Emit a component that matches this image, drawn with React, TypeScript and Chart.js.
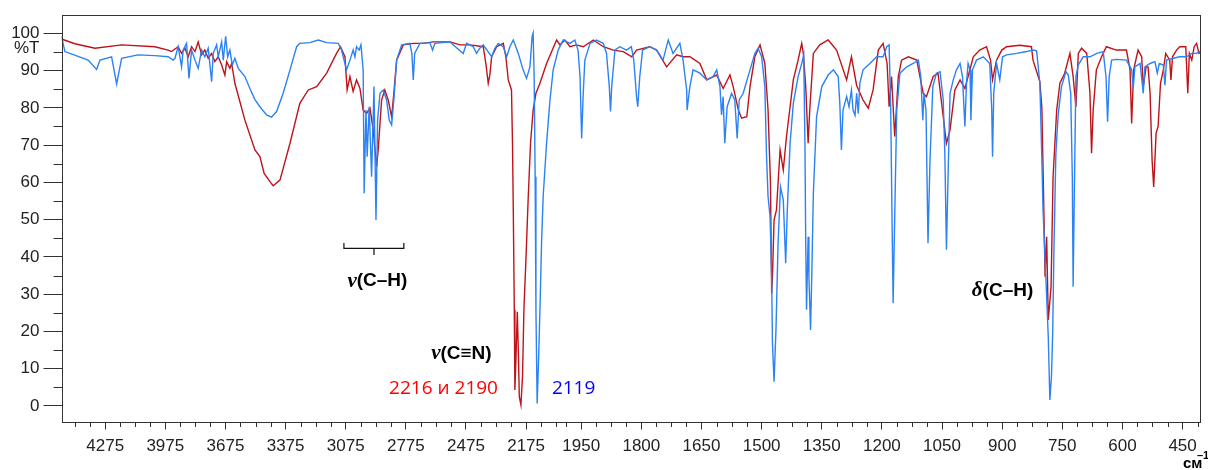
import React, { useEffect, useRef } from "react";
import { Chart, registerables } from "chart.js";

Chart.register(...registerables);

// ---- data (wavenumber in cm^-1, transmittance in %T) ----
const redWavenumbers = [
  4490, 4426, 4326, 4193, 4027, 3961, 3944, 3911, 3894, 3877, 3861, 3844, 3827, 3811, 3794, 3778, 3761, 3744, 3728, 3711,
  3694, 3678, 3669, 3653, 3644, 3628, 3578, 3553, 3528, 3503, 3482, 3453, 3437, 3403, 3353, 3304, 3262, 3220, 3170, 3121,
  3101, 3079, 3068, 3054, 3038, 3021, 3004, 2988, 2971, 2954, 2938, 2921, 2913, 2896, 2880, 2863, 2846, 2835, 2821, 2788,
  2738, 2688, 2639, 2555, 2505, 2455, 2389, 2376, 2364, 2356, 2347, 2322, 2289, 2276, 2264, 2248, 2243, 2239, 2234, 2231,
  2226, 2219, 2214, 2209, 2201, 2193, 2186, 2176, 2165, 2153, 2140, 2126, 2106, 2073, 2023, 2006, 1991, 1978, 1962, 1945,
  1920, 1895, 1870, 1845, 1824, 1812, 1779, 1762, 1737, 1712, 1696, 1679, 1654, 1637, 1612, 1596, 1579, 1571, 1558, 1550,
  1537, 1529, 1517, 1504, 1492, 1484, 1478, 1475, 1473, 1469, 1463, 1459, 1454, 1446, 1438, 1429, 1421, 1409, 1400, 1396,
  1390, 1384, 1380, 1371, 1355, 1334, 1313, 1288, 1276, 1263, 1247, 1234, 1222, 1209, 1197, 1187, 1182, 1176, 1168, 1159,
  1151, 1134, 1113, 1097, 1089, 1072, 1060, 1047, 1039, 1030, 1018, 1005, 993, 985, 972, 956, 939, 929, 924, 914,
  901, 889, 856, 827, 823, 806, 801, 796, 793, 789, 785, 778, 773, 764, 756, 744, 731, 723, 716, 710,
  702, 689, 681, 677, 673, 665, 652, 640, 615, 590, 581, 577, 572, 561, 552, 548, 541, 536, 531, 526,
  522, 516, 511, 505, 498, 492, 482, 479, 475, 465, 457, 442, 437, 433, 427, 421, 415, 409, 404,
];
const redTransmittance = [
  98.4, 97.2, 96.0, 96.9, 96.4, 95.5, 95.1, 96.4, 94.6, 96.0, 93.7, 96.4, 95.1, 97.7, 94.2, 95.5, 93.3, 94.6, 92.4, 93.7,
  91.5, 88.8, 92.4, 90.6, 91.9, 86.6, 76.7, 72.7, 68.7, 66.9, 62.4, 60.2, 59.1, 60.6, 70.5, 81.2, 84.8, 85.7, 89.3, 94.6,
  96.4, 93.7, 84.8, 88.4, 84.4, 87.5, 85.2, 79.4, 78.5, 79.9, 74.1, 64.2, 68.7, 82.1, 84.8, 82.1, 77.6, 83.9, 92.8, 96.9,
  97.3, 97.3, 97.7, 97.7, 96.9, 96.9, 96.4, 91.9, 86.6, 88.8, 93.7, 96.4, 97.3, 93.7, 87.5, 84.8, 70.5, 52.6, 25.8, 4.3,
  12.3, 25.3, 15.0, 2.5, 0.3, 7.9, 25.8, 39.2, 55.3, 70.5, 79.4, 83.9, 86.6, 91.9, 98.2, 96.9, 98.2, 96.4, 96.9, 96.4,
  98.2, 96.4, 95.5, 95.1, 93.7, 95.5, 96.4, 95.5, 91.0, 94.2, 93.7, 93.7, 91.9, 87.5, 88.8, 85.2, 88.8, 85.7, 79.4, 77.2,
  77.6, 85.7, 93.7, 96.9, 91.9, 79.4, 59.8, 30.2, 34.7, 49.9, 52.6, 59.8, 68.7, 63.3, 72.3, 80.3, 87.5, 92.8, 97.3, 94.6,
  85.7, 70.5, 79.4, 94.6, 96.9, 98.2, 95.5, 87.5, 93.7, 86.0, 82.1, 79.9, 84.8, 95.5, 97.3, 91.9, 80.3, 88.4, 72.3, 88.4,
  92.8, 93.7, 92.8, 83.9, 83.0, 88.4, 89.3, 77.6, 70.5, 74.1, 84.8, 87.5, 85.2, 88.4, 93.7, 95.5, 96.4, 92.8, 87.5, 92.8,
  95.5, 96.4, 96.8, 96.4, 92.8, 87.0, 80.0, 52.6, 34.7, 45.4, 23.1, 32.0, 61.5, 79.4, 86.6, 89.3, 94.6, 88.4, 80.3, 94.6,
  96.0, 94.6, 83.9, 67.8, 79.4, 90.2, 93.7, 96.4, 95.5, 95.5, 90.2, 75.8, 90.2, 95.5, 93.7, 85.7, 91.0, 91.0, 83.9, 66.0,
  58.8, 73.2, 75.0, 86.6, 90.2, 94.6, 92.8, 87.5, 93.7, 95.5, 96.4, 96.4, 83.9, 94.6, 92.8, 96.4, 97.3, 94.6, 95.0,
];

const blueWavenumbers = [
  4493, 4476, 4360, 4318, 4301, 4243, 4218, 4193, 4112, 4027, 3961, 3936, 3927, 3911, 3894, 3886, 3869, 3857, 3844, 3827,
  3811, 3794, 3778, 3761, 3744, 3736, 3719, 3711, 3694, 3686, 3674, 3664, 3653, 3641, 3628, 3611, 3578, 3553, 3528, 3503,
  3470, 3445, 3420, 3387, 3353, 3320, 3304, 3254, 3212, 3170, 3112, 3096, 3071, 3054, 3038, 3029, 3021, 3008, 2999, 2988,
  2983, 2974, 2968, 2958, 2946, 2934, 2924, 2916, 2904, 2888, 2871, 2858, 2846, 2835, 2821, 2796, 2755, 2745, 2738, 2731,
  2705, 2655, 2642, 2630, 2555, 2489, 2472, 2439, 2422, 2406, 2389, 2347, 2331, 2314, 2289, 2272, 2256, 2239, 2214, 2190,
  2173, 2156, 2145, 2140, 2135, 2130, 2126, 2120, 2113, 2106, 2098, 2090, 2073, 2056, 2040, 2015, 1995, 1978, 1966, 1958,
  1953, 1949, 1945, 1941, 1928, 1912, 1895, 1887, 1880, 1877, 1874, 1866, 1854, 1837, 1825, 1819, 1812, 1809, 1804, 1797,
  1779, 1762, 1746, 1733, 1721, 1704, 1696, 1687, 1686, 1679, 1671, 1654, 1637, 1621, 1612, 1604, 1600, 1596, 1592, 1586,
  1575, 1567, 1561, 1556, 1546, 1529, 1517, 1509, 1500, 1492, 1488, 1484, 1479, 1475, 1473, 1469, 1464, 1459, 1453, 1446,
  1440, 1436, 1429, 1421, 1409, 1400, 1395, 1392, 1390, 1388, 1384, 1382, 1378, 1375, 1371, 1363, 1350, 1334, 1321, 1309,
  1305, 1301, 1297, 1288, 1282, 1276, 1272, 1267, 1263, 1259, 1255, 1247, 1230, 1213, 1197, 1188, 1182, 1178, 1175, 1172,
  1168, 1163, 1155, 1138, 1122, 1109, 1103, 1098, 1095, 1090, 1085, 1080, 1073, 1064, 1055, 1047, 1043, 1039, 1035, 1030,
  1022, 1014, 1005, 999, 993, 989, 985, 980, 978, 974, 964, 947, 931, 926, 924, 921, 914, 906, 899, 889,
  864, 839, 823, 814, 806, 802, 798, 789, 785, 781, 777, 774, 771, 766, 760, 752, 741, 735, 729, 725,
  723, 720, 716, 710, 698, 681, 664, 648, 641, 637, 633, 627, 615, 590, 577, 573, 569, 556, 548, 544,
  531, 519, 513, 508, 498, 494, 490, 473, 457, 440, 427, 415, 407, 404,
];
const blueTransmittance = [
  99.2, 95.1, 92.8, 90.3, 92.8, 93.7, 86.4, 93.3, 94.2, 94.0, 93.7, 92.8, 93.3, 96.4, 91.0, 95.5, 97.3, 87.9, 95.5, 92.8,
  90.6, 95.5, 93.7, 96.0, 87.0, 94.6, 96.9, 93.7, 97.7, 92.8, 99.2, 93.7, 95.5, 91.5, 93.3, 90.6, 88.4, 85.2, 82.2, 80.3,
  78.1, 77.5, 79.0, 83.9, 90.2, 96.4, 97.3, 97.5, 98.2, 97.5, 97.3, 95.5, 90.2, 92.8, 95.5, 93.7, 96.4, 95.5, 96.9, 90.2,
  57.1, 79.4, 66.9, 80.3, 61.5, 85.7, 49.9, 76.7, 83.9, 84.8, 82.1, 76.7, 75.4, 82.1, 92.8, 96.9, 97.3, 94.6, 87.5, 94.6,
  97.3, 97.5, 95.5, 97.3, 97.7, 94.6, 97.3, 96.4, 94.6, 96.0, 96.9, 93.7, 96.0, 97.3, 96.4, 93.7, 96.4, 98.2, 94.6, 90.2,
  87.9, 91.0, 99.2, 100.1, 88.4, 61.5, 25.8, 0.7, 12.3, 25.8, 43.7, 56.2, 70.5, 82.1, 90.2, 95.5, 98.2, 97.3, 98.2, 95.5,
  88.4, 71.8, 83.9, 92.8, 97.3, 98.2, 97.3, 94.6, 85.7, 79.0, 85.7, 95.5, 96.4, 95.5, 96.4, 92.8, 83.0, 80.3, 88.4, 95.5,
  96.4, 95.5, 92.8, 98.2, 94.6, 97.3, 92.8, 84.8, 79.4, 85.7, 90.2, 89.3, 87.5, 88.4, 90.2, 85.7, 78.1, 83.0, 70.5, 80.3,
  83.9, 82.1, 71.8, 82.1, 83.9, 90.2, 94.6, 96.0, 93.7, 85.7, 67.8, 56.2, 50.8, 34.7, 16.8, 6.5, 21.3, 43.7, 58.8, 55.3,
  38.3, 52.6, 70.5, 81.2, 88.4, 91.9, 94.2, 70.5, 43.7, 25.8, 45.4, 34.7, 20.4, 34.7, 57.0, 77.6, 85.7, 88.8, 90.2, 88.4,
  81.2, 68.7, 79.4, 83.0, 80.3, 84.8, 79.4, 78.0, 83.9, 78.5, 86.6, 90.2, 91.9, 93.7, 93.7, 96.4, 96.9, 79.4, 52.6, 27.6,
  50.8, 79.4, 89.3, 91.0, 91.9, 92.8, 88.4, 76.7, 83.9, 79.4, 43.7, 66.0, 85.7, 89.3, 89.7, 82.1, 67.8, 41.9, 61.5, 83.9,
  87.5, 90.2, 91.9, 88.4, 75.0, 86.6, 91.9, 90.2, 76.7, 90.2, 92.8, 93.7, 91.9, 79.4, 66.9, 83.9, 91.9, 87.5, 93.7, 94.2,
  94.6, 95.1, 95.5, 95.3, 86.6, 70.5, 52.6, 29.3, 18.6, 1.6, 7.9, 19.5, 41.0, 67.8, 78.5, 85.7, 89.7, 88.8, 83.9, 61.5,
  32.0, 57.0, 88.4, 91.5, 93.7, 93.7, 94.6, 95.1, 88.4, 76.3, 88.4, 92.8, 93.0, 92.8, 90.2, 85.2, 91.0, 91.9, 83.9, 91.0,
  91.9, 92.4, 89.3, 91.9, 91.5, 86.1, 92.8, 93.3, 93.7, 93.7, 94.6, 94.6, 95.1, 95.0,
];

const xTickLabels = [4275, 3975, 3675, 3375, 3075, 2775, 2475, 2175, 1950, 1800, 1650, 1500, 1350, 1200, 1050, 900, 750, 600, 450];
const yTickValues = [0, 10, 20, 30, 40, 50, 60, 70, 80, 90, 100];
const yMinorValues = [5, 15, 25, 35, 45, 55, 65, 75, 85, 95];

const X_MAX_WN = 4493;
const X_MIN_WN = 404;
const Y_MIN = -4.43;
const Y_MAX = 104.91;

const RED = "#bf1219";
const BLUE = "#2b82f4";
const AXIS = "#333333";
const LABEL = "#222222";

// the instrument scale doubles its resolution below 2000 cm^-1
const BREAK = 2000;
const toAxis = (w: number) => (w >= BREAK ? w : 2 * w - BREAK);

function minorXTicks(): number[] {
  const out: number[] = [];
  for (let w = 4425; w >= 2025; w -= 75) out.push(w);
  for (let w = 1987.5; w >= 412; w -= 37.5) out.push(w);
  return out;
}

type Part = { text: string; font: string };

function drawParts(ctx: CanvasRenderingContext2D, parts: Part[], cx: number, cy: number, color: string) {
  let total = 0;
  const widths = parts.map((p) => {
    ctx.font = p.font;
    const w = ctx.measureText(p.text).width;
    total += w;
    return w;
  });
  let x = cx - total / 2;
  ctx.fillStyle = color;
  ctx.textBaseline = "middle";
  ctx.textAlign = "left";
  parts.forEach((p, i) => {
    ctx.font = p.font;
    ctx.fillText(p.text, x, cy);
    x += widths[i];
  });
}

const SANS = '"Liberation Sans", Arial, sans-serif';
const SERIF = '"Liberation Serif", "Times New Roman", serif';
const OPEN = '"Open Sans", "Noto Sans", sans-serif';

const overlayPlugin = {
  id: "irOverlay",
  afterDraw(chart: any) {
    const { ctx, chartArea } = chart;
    const xs = chart.scales.x;
    const ys = chart.scales.y;
    const X = (w: number) => xs.getPixelForValue(toAxis(w));
    const Y = (v: number) => ys.getPixelForValue(v);
    ctx.save();

    // frame
    const l = Math.round(chartArea.left) + 0.5;
    const t = Math.round(chartArea.top) + 0.5;
    const r = Math.round(chartArea.right) - 0.5;
    const b = Math.round(chartArea.bottom) - 0.5;
    ctx.strokeStyle = AXIS;
    ctx.lineWidth = 1;
    ctx.strokeRect(l, t, r - l, b - t);

    // minor ticks
    ctx.beginPath();
    for (const w of minorXTicks()) {
      if (xTickLabels.includes(w)) continue;
      const px = Math.round(X(w)) + 0.5;
      ctx.moveTo(px, b);
      ctx.lineTo(px, b + 4.5);
    }
    for (const v of yMinorValues) {
      const py = Math.round(Y(v)) + 0.5;
      ctx.moveTo(l - 9, py);
      ctx.lineTo(l, py);
    }
    ctx.stroke();

    // %T
    ctx.font = `17px ${SANS}`;
    ctx.fillStyle = LABEL;
    ctx.textAlign = "right";
    ctx.textBaseline = "middle";
    ctx.fillText("%T", chartArea.left - 22, Y(95.9));

    // cm-1
    ctx.textAlign = "left";
    ctx.textBaseline = "alphabetic";
    ctx.fillStyle = "#000";
    ctx.font = `bold 15px ${SANS}`;
    ctx.fillText("см", 1183, 468);
    ctx.font = `bold 11px ${SANS}`;
    ctx.fillText("–1", 1197, 459);

    // bracket for nu(C-H)
    ctx.strokeStyle = "#111";
    ctx.lineWidth = 1.2;
    const bx1 = X(3084), bx2 = X(2785), bxc = X(2934);
    const by = Y(42.3);
    ctx.beginPath();
    ctx.moveTo(bx1, Y(43.7));
    ctx.lineTo(bx1, by);
    ctx.lineTo(bx2, by);
    ctx.lineTo(bx2, Y(43.7));
    ctx.moveTo(bxc, by);
    ctx.lineTo(bxc, Y(40.5));
    ctx.stroke();

    const bold = `bold 19px ${SANS}`;
    drawParts(ctx, [
      { text: "ν", font: `italic bold 21px ${SERIF}` },
      { text: "(C–H)", font: bold },
    ], X(2917), Y(33.5), "#000");
    drawParts(ctx, [
      { text: "ν", font: `italic bold 21px ${SERIF}` },
      { text: "(C≡N)", font: bold },
    ], X(2498), Y(14.0), "#000");
    drawParts(ctx, [
      { text: "δ", font: `italic bold 21px ${SERIF}` },
      { text: "(C–H)", font: bold },
    ], X(899), Y(30.9), "#000");

    drawParts(ctx, [{ text: "2216 и 2190", font: `19px ${OPEN}` }], X(2587), Y(4.6), "#ff0000");
    drawParts(ctx, [{ text: "2119", font: `19px ${OPEN}` }], X(1969), Y(4.6), "#0000ff");

    ctx.restore();
  },
};

export default function App() {
  const canvasRef = useRef<HTMLCanvasElement | null>(null);

  useEffect(() => {
    const canvas = canvasRef.current;
    if (!canvas) return;
    const chart = new Chart(canvas, {
      type: "line",
      data: {
        datasets: [
          {
            label: "blue",
            data: blueWavenumbers.map((w, i) => ({ x: toAxis(w), y: blueTransmittance[i] })),
            borderColor: BLUE,
            borderWidth: 1.4,
            pointRadius: 0,
            tension: 0,
            fill: false,
            order: 0,
          },
          {
            label: "red",
            data: redWavenumbers.map((w, i) => ({ x: toAxis(w), y: redTransmittance[i] })),
            borderColor: RED,
            borderWidth: 1.4,
            pointRadius: 0,
            tension: 0,
            fill: false,
            order: 1,
          },
        ],
      },
      options: {
        animation: false,
        responsive: false,
        devicePixelRatio: 1,
        layout: { padding: { left: 0, top: 15, right: 7, bottom: 0 } },
        plugins: { legend: { display: false }, tooltip: { enabled: false } },
        scales: {
          x: {
            type: "linear",
            reverse: true,
            min: toAxis(X_MIN_WN),
            max: toAxis(X_MAX_WN),
            border: { display: false },
            grid: { display: true, drawOnChartArea: false, drawTicks: true, tickLength: 7, color: AXIS, tickColor: AXIS },
            afterBuildTicks: (scale: any) => {
              scale.ticks = xTickLabels.map((w) => ({ value: toAxis(w) }));
            },
            afterFit: (scale: any) => {
              scale.height = 47.5;
              scale.paddingLeft = 0;
              scale.paddingRight = 0;
            },
            ticks: {
              autoSkip: false,
              maxRotation: 0,
              padding: 7,
              color: LABEL,
              font: { family: SANS, size: 17 },
              callback: (_v: any, i: number) => String(xTickLabels[i]),
            },
          },
          y: {
            type: "linear",
            min: Y_MIN,
            max: Y_MAX,
            border: { display: false },
            grid: { display: true, drawOnChartArea: false, drawTicks: true, tickLength: 18, color: AXIS, tickColor: AXIS },
            afterBuildTicks: (scale: any) => {
              scale.ticks = yTickValues.map((v) => ({ value: v }));
            },
            afterFit: (scale: any) => {
              scale.width = 61.5;
              scale.paddingTop = 0;
              scale.paddingBottom = 0;
            },
            ticks: {
              padding: 4,
              color: LABEL,
              font: { family: SANS, size: 17 },
              callback: (v: any) => String(v),
            },
          },
        },
      },
      plugins: [overlayPlugin],
    });
    return () => chart.destroy();
  }, []);

  return (
    <div style={{ position: "absolute", left: 0, top: 0, width: 1208, height: 470, background: "#fff" }}>
      <canvas ref={canvasRef} width={1208} height={470} style={{ display: "block" }} />
    </div>
  );
}
